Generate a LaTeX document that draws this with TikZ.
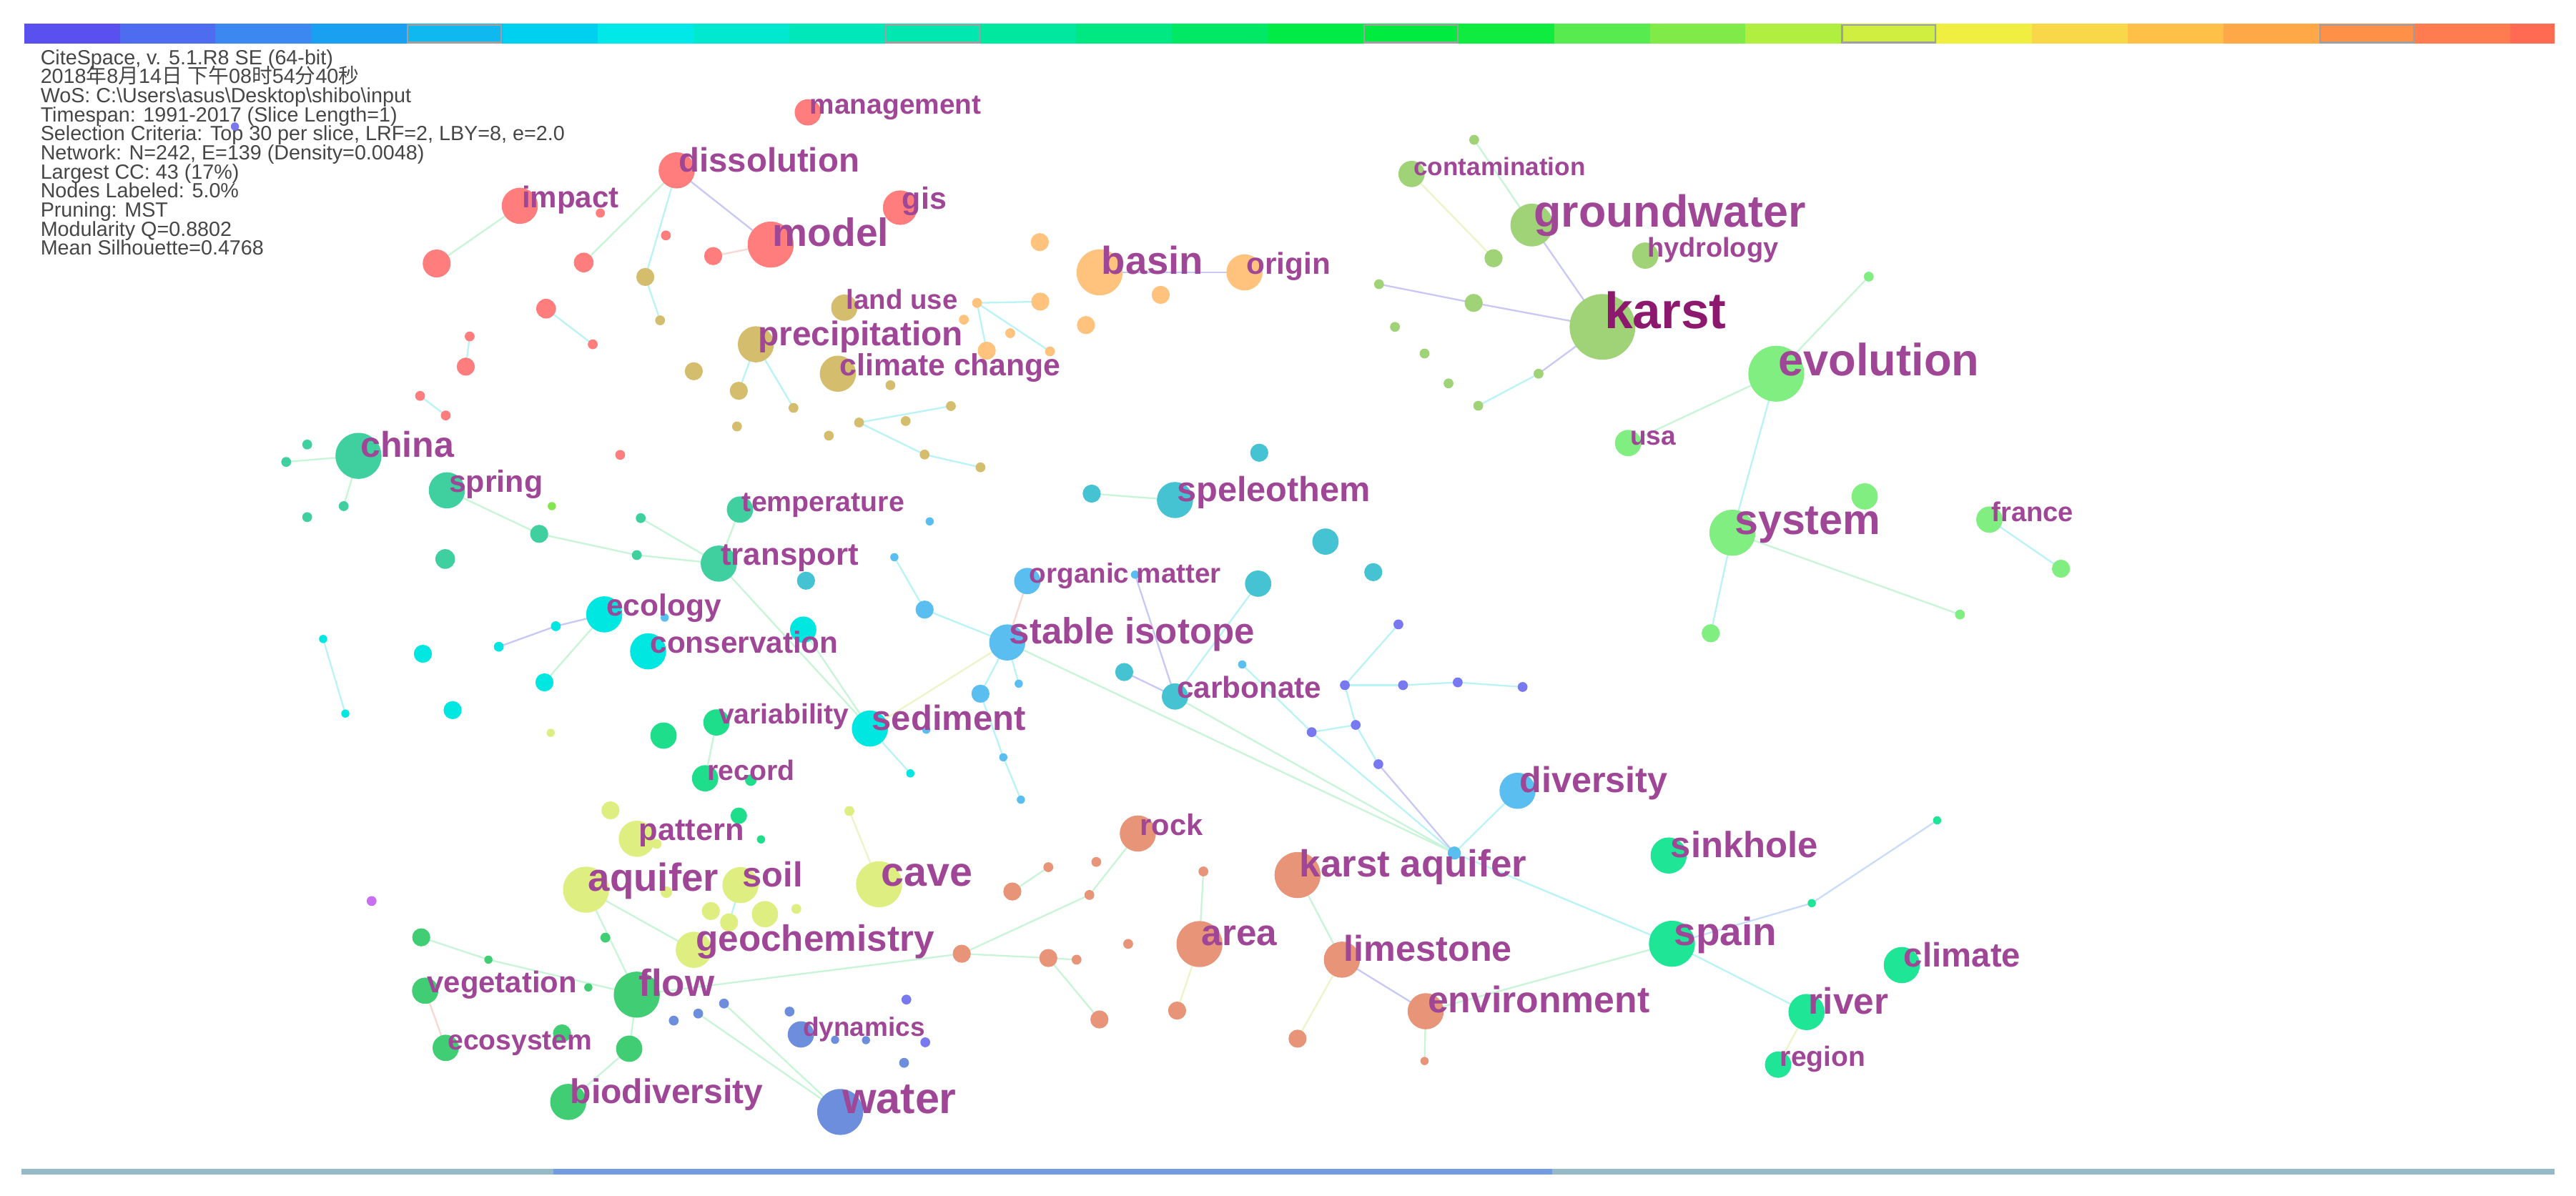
\documentclass[tikz,border=0pt]{standalone}
\usepackage{fontspec}
\setmainfont{Liberation Sans}
\newfontfamily\cjk{Noto Sans CJK SC}
\pgfdeclarelayer{bg}
\pgfdeclarelayer{paper}
\pgfsetlayers{paper,bg,main}
% cluster colours
\definecolor{cR}{RGB}{255,125,125}
\definecolor{cO}{RGB}{212,190,110}
\definecolor{cY}{RGB}{255,195,125}
\definecolor{cK}{RGB}{160,210,120}
\definecolor{cE}{RGB}{128,238,128}
\definecolor{cT}{RGB}{64,208,160}
\definecolor{cL}{RGB}{130,230,80}
\definecolor{cS}{RGB}{70,195,210}
\definecolor{cB}{RGB}{90,190,240}
\definecolor{cV}{RGB}{120,120,240}
\definecolor{cC}{RGB}{0,230,225}
\definecolor{cG}{RGB}{30,222,140}
\definecolor{cA}{RGB}{222,238,128}
\definecolor{cF}{RGB}{65,205,115}
\definecolor{cP}{RGB}{200,110,240}
\definecolor{cW}{RGB}{108,142,220}
\definecolor{cQ}{RGB}{232,148,120}
\definecolor{cN}{RGB}{30,230,150}
% edge colours
\definecolor{edG}{RGB}{200,245,215}
\definecolor{edC}{RGB}{185,243,245}
\definecolor{edV}{RGB}{200,200,246}
\definecolor{edY}{RGB}{235,245,200}
\definecolor{edR}{RGB}{250,215,210}
\definecolor{edB}{RGB}{200,220,250}
% text colours
\definecolor{lab}{RGB}{160,70,150}
\definecolor{labk}{RGB}{140,25,110}
\definecolor{hdr}{RGB}{70,70,70}
\definecolor{botA}{RGB}{150,185,200}
\definecolor{botB}{RGB}{115,155,225}
% colour bar
\definecolor{bar0}{RGB}{90,80,240}
\definecolor{bar1}{RGB}{78,108,240}
\definecolor{bar2}{RGB}{58,136,240}
\definecolor{bar3}{RGB}{26,160,240}
\definecolor{bar4}{RGB}{16,184,240}
\definecolor{bar5}{RGB}{0,208,240}
\definecolor{bar6}{RGB}{0,232,232}
\definecolor{bar7}{RGB}{0,232,208}
\definecolor{bar8}{RGB}{0,232,186}
\definecolor{bar9}{RGB}{0,232,176}
\definecolor{bar10}{RGB}{0,232,160}
\definecolor{bar11}{RGB}{0,232,130}
\definecolor{bar12}{RGB}{0,232,100}
\definecolor{bar13}{RGB}{0,235,70}
\definecolor{bar14}{RGB}{0,235,64}
\definecolor{bar15}{RGB}{16,235,64}
\definecolor{bar16}{RGB}{88,235,80}
\definecolor{bar17}{RGB}{128,235,72}
\definecolor{bar18}{RGB}{176,238,64}
\definecolor{bar19}{RGB}{208,238,64}
\definecolor{bar20}{RGB}{240,238,64}
\definecolor{bar21}{RGB}{248,216,72}
\definecolor{bar22}{RGB}{255,192,72}
\definecolor{bar23}{RGB}{255,168,72}
\definecolor{bar24}{RGB}{255,144,72}
\definecolor{bar25}{RGB}{255,124,80}
\definecolor{bar26}{RGB}{255,106,82}
\tikzset{
  dot/.style={circle, fill=#1, draw=none, inner sep=0pt, outer sep=0pt},
  lbl/.style={anchor=base west, inner sep=0pt, outer sep=0pt, text=lab, xshift=1.3pt, yshift=-1pt},
  hline/.style={anchor=base west, inner sep=0pt, text=hdr, font=\fontsize{12.5}{12.5}\selectfont},
  eG/.style={draw=edG, line width=1pt},
  eC/.style={draw=edC, line width=1pt},
  eV/.style={draw=edV, line width=1pt},
  eY/.style={draw=edY, line width=1pt},
  eR/.style={draw=edR, line width=1pt},
  eB/.style={draw=edB, line width=1pt},
}
\newcommand\kwnode[5]{\node[dot=#5, minimum size=2*#4pt] (#1) at (#2,#3) {};}
\newcommand\kwlabel[3]{\node[lbl, font=\bfseries\fontsize{#2}{#2}\selectfont] (#1-l) at (#1.center) {#3};}
\newcommand\kwedge[3]{\draw[#1] (#2.center) -- (#3.center);}
\begin{document}
\begin{tikzpicture}[x=1pt,y=-1pt]
\useasboundingbox (0,0) rectangle (1568,728);
\begin{pgfonlayer}{paper}
\fill[white] (0,0) rectangle (1568,728);
\end{pgfonlayer}
% ---------- colour bar ----------
\begin{scope}
\clip (0,0) rectangle (1555,40);
\foreach \i in {0,...,26}{
  \fill[bar\i] ({14.8+58.2*\i},14.5) rectangle ({14.8+58.2*(\i+1)},26.5);
}
\foreach \i in {4,9,14,19,24}{
  \draw[gray!75, line width=1pt] ({15.4+58.2*\i},15.1) rectangle ({14.2+58.2*(\i+1)},25.9);
}
\end{scope}
% ---------- bottom bar ----------
\fill[botA] (13,711.5) rectangle (1555,715);
\fill[botB] (337,711.5) rectangle (945,715);
% ---------- header ----------
\node[hline] (h1) at (24.5,39.3) {CiteSpace, v. 5.1.R8 SE (64-bit)};
\node[hline] (h2) at (24.5,50.9) {2018{\cjk 年}8{\cjk 月}14{\cjk 日} {\cjk 下午}08{\cjk 时}54{\cjk 分}40{\cjk 秒}};
\node[hline] (h3) at (24.5,62.5) {WoS: C:\textbackslash Users\textbackslash asus\textbackslash Desktop\textbackslash shibo\textbackslash input};
\node[hline] (h4) at (24.5,74.1) {Timespan: 1991-2017 (Slice Length=1)};
\node[hline] (h5) at (24.5,85.7) {Selection Criteria: Top 30 per slice, LRF=2, LBY=8, e=2.0};
\node[hline] (h6) at (24.5,97.3) {Network: N=242, E=139 (Density=0.0048)};
\node[hline] (h7) at (24.5,108.9) {Largest CC: 43 (17\%)};
\node[hline] (h8) at (24.5,120.5) {Nodes Labeled: 5.0\%};
\node[hline] (h9) at (24.5,132.1) {Pruning: MST};
\node[hline] (h10) at (24.5,143.7) {Modularity Q=0.8802};
\node[hline] (h11) at (24.5,155.3) {Mean Silhouette=0.4768};
% ---------- nodes ----------
% red
\kwnode{r1}{491.7}{68.4}{8}{cR}
\kwnode{r2}{411.9}{103.7}{11}{cR}
\kwnode{r3}{316.4}{125.3}{11}{cR}
\kwnode{r4}{547.9}{126.4}{10.5}{cR}
\kwnode{r5}{469.1}{148.9}{14}{cR}
\kwnode{r6}{365.4}{129.7}{2.8}{cR}
\kwnode{r7}{405.3}{143.3}{3}{cR}
\kwnode{r8}{434.1}{155.9}{5.5}{cR}
\kwnode{r9}{265.8}{160.4}{8.5}{cR}
\kwnode{r10}{355.3}{159.8}{6}{cR}
\kwnode{r11}{332.4}{187.9}{6}{cR}
\kwnode{r12}{360.8}{209.6}{3}{cR}
\kwnode{r13}{285.9}{204.8}{3}{cR}
\kwnode{r14}{283.5}{223.2}{5.5}{cR}
\kwnode{r15}{255.7}{241}{3}{cR}
\kwnode{r16}{271.3}{252.9}{3}{cR}
\kwnode{r17}{377.5}{276.9}{3}{cR}
% olive
\kwnode{o1}{392.8}{168.6}{5.5}{cO}
\kwnode{o2}{401.8}{195}{3}{cO}
\kwnode{o3}{513.9}{187.3}{8}{cO}
\kwnode{o4}{460.1}{209.6}{11}{cO}
\kwnode{o5}{510}{227.5}{11}{cO}
\kwnode{o6}{422.3}{226}{5.5}{cO}
\kwnode{o7}{449.7}{237.9}{5.5}{cO}
\kwnode{o8}{483}{248.3}{3}{cO}
\kwnode{o9}{542}{234.5}{3}{cO}
\kwnode{o10}{448.6}{259.6}{3}{cO}
\kwnode{o11}{504.5}{265.2}{3}{cO}
\kwnode{o12}{522.9}{257.2}{3}{cO}
\kwnode{o13}{551.3}{256.3}{3}{cO}
\kwnode{o14}{578.8}{247.2}{3}{cO}
\kwnode{o15}{562.8}{276.7}{3}{cO}
\kwnode{o16}{596.8}{284.5}{3}{cO}
% orange
\kwnode{y1}{632.9}{147.4}{5.5}{cY}
\kwnode{y2}{669.3}{165.8}{14}{cY}
\kwnode{y3}{633.2}{183.6}{5.5}{cY}
\kwnode{y4}{594.7}{184.4}{3}{cY}
\kwnode{y5}{661}{197.9}{5.5}{cY}
\kwnode{y6}{586.7}{194.6}{3}{cY}
\kwnode{y7}{614.9}{202.8}{3}{cY}
\kwnode{y8}{600.6}{213.5}{5.5}{cY}
\kwnode{y9}{639.1}{213.9}{3}{cY}
\kwnode{y10}{757.5}{165.8}{11}{cY}
\kwnode{y11}{706.5}{179.5}{5.5}{cY}
% karst green
\kwnode{k1}{859.2}{105.9}{8}{cK}
\kwnode{k2}{897.3}{85.1}{3}{cK}
\kwnode{k3}{932.4}{137}{13}{cK}
\kwnode{k4}{909.1}{157.2}{5.5}{cK}
\kwnode{k5}{1001.4}{155.6}{8}{cK}
\kwnode{k6}{839.4}{173}{3}{cK}
\kwnode{k7}{897}{184.4}{5.5}{cK}
\kwnode{k8}{975.4}{199}{20}{cK}
\kwnode{k9}{849.1}{199}{3}{cK}
\kwnode{k10}{867.1}{215.2}{3}{cK}
\kwnode{k11}{936.5}{227.5}{3}{cK}
\kwnode{k12}{881.7}{233.4}{3}{cK}
\kwnode{k13}{899.8}{247}{3}{cK}
% light green
\kwnode{e1}{1081.2}{227.5}{17}{cE}
\kwnode{e2}{1137.5}{168.4}{3}{cE}
\kwnode{e3}{991}{269.7}{8}{cE}
\kwnode{e4}{1054.5}{324.3}{14}{cE}
\kwnode{e5}{1135}{302.2}{8}{cE}
\kwnode{e6}{1193}{374.1}{3}{cE}
\kwnode{e7}{1210.9}{316.3}{8}{cE}
\kwnode{e8}{1254.5}{346.2}{5.5}{cE}
\kwnode{e9}{1041.3}{385.5}{5.5}{cE}
% teal
\kwnode{t1}{218.2}{277.5}{14}{cT}
\kwnode{t2}{187}{270.6}{3}{cT}
\kwnode{t3}{174.2}{281.2}{3}{cT}
\kwnode{t4}{209.2}{308.1}{3}{cT}
\kwnode{t5}{187}{314.8}{3}{cT}
\kwnode{t6}{272}{298.5}{11}{cT}
\kwnode{t7}{328.2}{325}{5.5}{cT}
\kwnode{t8}{271}{340.3}{6}{cT}
\kwnode{t9}{390}{315.4}{3}{cT}
\kwnode{t10}{387.6}{337.9}{3}{cT}
\kwnode{t11}{450.4}{310.2}{8}{cT}
\kwnode{t12}{437.5}{343.1}{11}{cT}
\kwnode{l1}{335.9}{308.1}{2.5}{cL}
% teal-blue
\kwnode{s1}{715.2}{304.4}{11}{cS}
\kwnode{s2}{664.5}{300.5}{5.5}{cS}
\kwnode{s3}{766.5}{275.6}{5.5}{cS}
\kwnode{s4}{806.8}{329.7}{8}{cS}
\kwnode{s5}{835.9}{348.3}{5.5}{cS}
\kwnode{s6}{765.8}{355.3}{8}{cS}
\kwnode{s7}{490.6}{353.5}{5.5}{cS}
\kwnode{s8}{715.2}{424}{8}{cS}
\kwnode{s9}{684.3}{409.1}{5.5}{cS}
% sky blue
\kwnode{b1}{625.3}{353.7}{8}{cB}
\kwnode{b2}{565.9}{317.4}{2.5}{cB}
\kwnode{b3}{544.4}{339.2}{2.5}{cB}
\kwnode{b4}{562.8}{371.1}{5.5}{cB}
\kwnode{b5}{613.1}{391.1}{11}{cB}
\kwnode{b6}{690.9}{349.8}{2.5}{cB}
\kwnode{b7}{596.8}{422.3}{5.5}{cB}
\kwnode{b8}{620.1}{416.2}{2.5}{cB}
\kwnode{b9}{610.7}{461}{2.5}{cB}
\kwnode{b10}{621.4}{486.8}{2.5}{cB}
\kwnode{b11}{563.8}{444.2}{2.5}{cB}
\kwnode{b12}{756.1}{404.5}{2.5}{cB}
\kwnode{b13}{923.7}{481.4}{11}{cB}
\kwnode{b14}{885.2}{519.3}{4}{cB}
\kwnode{b15}{404.6}{376}{2.5}{cB}
% violet
\kwnode{v1}{851.2}{380.1}{3}{cV}
\kwnode{v2}{818.6}{417.1}{3}{cV}
\kwnode{v3}{854}{417.1}{3}{cV}
\kwnode{v4}{887.3}{415.4}{3}{cV}
\kwnode{v5}{926.8}{418.2}{3}{cV}
\kwnode{v6}{798.4}{445.7}{3}{cV}
\kwnode{v7}{825.2}{441.3}{3}{cV}
\kwnode{v8}{839}{465.2}{3}{cV}
\kwnode{v9}{143}{77}{2.5}{cV}
% cyan
\kwnode{c1}{367.8}{374}{11}{cC}
\kwnode{c2}{394.5}{396.5}{11}{cC}
\kwnode{c3}{488.9}{383.3}{8}{cC}
\kwnode{c4}{338.3}{381.2}{3}{cC}
\kwnode{c5}{257.4}{398}{5.5}{cC}
\kwnode{c6}{303.6}{393.7}{3}{cC}
\kwnode{c7}{196.7}{389}{2.5}{cC}
\kwnode{c8}{210.2}{434.4}{2.5}{cC}
\kwnode{c9}{331.4}{415.4}{5.5}{cC}
\kwnode{c10}{275.5}{432.3}{5.5}{cC}
\kwnode{c11}{529.5}{443.5}{11}{cC}
\kwnode{c12}{554.1}{470.8}{2.5}{cC}
% green (variability)
\kwnode{g1}{403.9}{447.8}{8}{cG}
\kwnode{g2}{436.1}{439.8}{8}{cG}
\kwnode{g3}{429.2}{473.8}{8}{cG}
\kwnode{g4}{457}{474.9}{3.5}{cG}
\kwnode{g5}{449.7}{496.6}{5}{cG}
\kwnode{g6}{463.2}{511}{2.5}{cG}
% yellow-green
\kwnode{a1}{335.2}{446.1}{2.5}{cA}
\kwnode{a2}{371.6}{493.3}{5.5}{cA}
\kwnode{a3}{387.6}{510.6}{11}{cA}
\kwnode{a4}{399.7}{513.7}{3}{cA}
\kwnode{a5}{517}{493.7}{3}{cA}
\kwnode{a6}{356.7}{541.6}{14}{cA}
\kwnode{a7}{405.6}{543.1}{3.5}{cA}
\kwnode{a8}{450.7}{538.8}{11}{cA}
\kwnode{a9}{535.1}{538.3}{14}{cA}
\kwnode{a10}{432.7}{554.6}{5.5}{cA}
\kwnode{a11}{443.8}{561.5}{5.5}{cA}
\kwnode{a12}{465.6}{556.5}{8}{cA}
\kwnode{a13}{484.7}{553.3}{3}{cA}
\kwnode{a14}{422.3}{578.2}{11}{cA}
% dark green
\kwnode{f1}{256.4}{570.6}{5.5}{cF}
\kwnode{f2}{297.3}{584.2}{2.5}{cF}
\kwnode{f3}{368.5}{570.8}{3}{cF}
\kwnode{f4}{258.8}{603.1}{8}{cF}
\kwnode{f5}{358.1}{601.1}{2.5}{cF}
\kwnode{f6}{387.6}{605.5}{14}{cF}
\kwnode{f7}{271.3}{637.9}{8}{cF}
\kwnode{f8}{342.1}{629.1}{5.5}{cF}
\kwnode{f9}{383}{638.4}{8}{cF}
\kwnode{f10}{345.9}{670.8}{11}{cF}
\kwnode{p1}{226.2}{548.5}{3}{cP}
% blue
\kwnode{w1}{440.7}{610.9}{3}{cW}
\kwnode{w2}{425}{617}{3}{cW}
\kwnode{w3}{410.1}{621.3}{3}{cW}
\kwnode{w4}{480.6}{615.8}{3}{cW}
\kwnode{w5}{487.5}{629.7}{8}{cW}
\kwnode{w6}{508.3}{633}{2.5}{cW}
\kwnode{w7}{527.1}{633.2}{2.5}{cW}
\kwnode{w8}{550.3}{647}{3}{cW}
\kwnode{w9}{511.4}{676.9}{14}{cW}
\kwnode{w10}{551.7}{608.5}{3}{cV}
\kwnode{w11}{563.2}{634.5}{3}{cV}
% orange-brown
\kwnode{q1}{692.6}{507.4}{11}{cQ}
\kwnode{q2}{616.2}{542.7}{5.5}{cQ}
\kwnode{q3}{638.1}{527.9}{3}{cQ}
\kwnode{q4}{667.3}{524.7}{3}{cQ}
\kwnode{q5}{663.1}{544.8}{3}{cQ}
\kwnode{q6}{585.4}{580.6}{5.5}{cQ}
\kwnode{q7}{638.1}{583.2}{5.5}{cQ}
\kwnode{q8}{655.3}{584.2}{3}{cQ}
\kwnode{q9}{686.7}{574.6}{3}{cQ}
\kwnode{q10}{669.2}{620.6}{5.5}{cQ}
\kwnode{q11}{789.8}{532.7}{14}{cQ}
\kwnode{q12}{732.5}{530.5}{3}{cQ}
\kwnode{q13}{730.1}{574.7}{14}{cQ}
\kwnode{q14}{816.8}{584.2}{11}{cQ}
\kwnode{q15}{867.8}{615.6}{11}{cQ}
\kwnode{q16}{716.5}{615.2}{5.5}{cQ}
\kwnode{q17}{789.8}{632.3}{5.5}{cQ}
\kwnode{q18}{867.1}{645.9}{2.5}{cQ}
% spring green
\kwnode{n1}{1015.7}{520.8}{11}{cN}
\kwnode{n2}{1179.1}{499.4}{2.5}{cN}
\kwnode{n3}{1102.8}{549.8}{2.5}{cN}
\kwnode{n4}{1017.7}{574.5}{14}{cN}
\kwnode{n5}{1157.6}{587.5}{11}{cN}
\kwnode{n6}{1099.6}{616.1}{11}{cN}
\kwnode{n7}{1082.3}{648.1}{8}{cN}
% ---------- edges ----------
\begin{pgfonlayer}{bg}
\kwedge{eG}{r3}{r9}
\kwedge{eG}{r2}{r10}
\kwedge{eC}{r2}{o1}
\kwedge{eC}{o1}{o2}
\kwedge{eV}{r2}{r5}
\kwedge{eR}{r8}{r5}
\kwedge{eC}{r11}{r12}
\kwedge{eC}{r13}{r14}
\kwedge{eC}{r15}{r16}
\kwedge{eC}{y4}{y3}
\kwedge{eC}{y4}{y8}
\kwedge{eC}{y4}{y9}
\kwedge{eC}{o4}{o7}
\kwedge{eC}{o4}{o8}
\kwedge{eC}{o12}{o14}
\kwedge{eC}{o12}{o15}
\kwedge{eC}{o15}{o16}
\kwedge{eV}{y2}{y10}
\kwedge{eG}{t1}{t3}
\kwedge{eG}{t1}{t4}
\kwedge{eG}{t6}{t7}
\kwedge{eG}{t7}{t10}
\kwedge{eG}{t10}{t12}
\kwedge{eG}{t12}{t11}
\kwedge{eG}{t12}{t9}
\kwedge{eG}{t12}{c11}
\kwedge{eG}{c3}{c11}
\kwedge{eC}{b3}{b4}
\kwedge{eC}{b4}{b5}
\kwedge{eR}{b1}{b5}
\kwedge{eG}{s1}{s2}
\kwedge{eV}{b6}{s8}
\kwedge{eC}{s6}{s8}
\kwedge{eV}{s9}{s8}
\kwedge{eG}{b5}{b14}
\kwedge{eG}{s8}{b14}
\kwedge{eC}{b12}{v6}
\kwedge{eC}{v6}{b14}
\kwedge{eC}{v1}{v2}
\kwedge{eC}{v2}{v3}
\kwedge{eC}{v3}{v4}
\kwedge{eC}{v4}{v5}
\kwedge{eC}{v2}{v7}
\kwedge{eC}{v6}{v7}
\kwedge{eC}{v7}{v8}
\kwedge{eV}{v8}{b14}
\kwedge{eC}{b13}{b14}
\kwedge{eC}{b14}{n4}
\kwedge{eV}{c1}{c4}
\kwedge{eV}{c4}{c6}
\kwedge{eG}{c1}{c9}
\kwedge{eC}{c7}{c8}
\kwedge{eY}{c11}{b5}
\kwedge{eC}{b5}{b7}
\kwedge{eC}{b5}{b8}
\kwedge{eC}{b7}{b9}
\kwedge{eC}{b9}{b10}
\kwedge{eC}{c11}{c12}
\kwedge{eG}{g2}{g3}
\kwedge{eY}{a5}{a9}
\kwedge{eG}{a6}{a14}
\kwedge{eG}{a6}{f6}
\kwedge{eC}{a8}{a11}
\kwedge{eG}{f1}{f2}
\kwedge{eG}{f2}{f6}
\kwedge{eG}{f6}{q6}
\kwedge{eG}{q6}{q7}
\kwedge{eG}{q7}{q8}
\kwedge{eG}{q6}{q5}
\kwedge{eG}{q5}{q1}
\kwedge{eG}{q2}{q3}
\kwedge{eG}{q7}{q10}
\kwedge{eG}{f6}{f9}
\kwedge{eG}{f9}{f10}
\kwedge{eR}{f4}{f7}
\kwedge{eG}{w2}{w9}
\kwedge{eG}{w1}{w9}
\kwedge{eG}{q11}{q14}
\kwedge{eV}{q14}{q15}
\kwedge{eY}{q14}{q17}
\kwedge{eG}{q15}{q18}
\kwedge{eG}{q15}{n4}
\kwedge{eG}{q13}{q12}
\kwedge{eY}{q13}{q16}
\kwedge{eB}{n4}{n3}
\kwedge{eB}{n3}{n2}
\kwedge{eC}{n4}{n6}
\kwedge{eY}{n6}{n7}
\kwedge{eV}{k8}{k3}
\kwedge{eV}{k8}{k7}
\kwedge{eV}{k7}{k6}
\kwedge{eV}{k8}{k11}
\kwedge{eC}{k11}{k13}
\kwedge{eY}{k1}{k4}
\kwedge{eG}{k2}{k3}
\kwedge{eG}{e1}{e2}
\kwedge{eG}{e1}{e3}
\kwedge{eC}{e1}{e4}
\kwedge{eG}{e4}{e6}
\kwedge{eC}{e4}{e9}
\kwedge{eC}{e7}{e8}
\end{pgfonlayer}
% ---------- labels ----------
\kwlabel{r1}{16.9}{management}
\kwlabel{r2}{20.6}{dissolution}
\kwlabel{r3}{18.3}{impact}
\kwlabel{r4}{18.7}{gis}
\kwlabel{r5}{24}{model}
\kwlabel{o3}{16.7}{land use}
\kwlabel{o4}{20.8}{precipitation}
\kwlabel{o5}{18.6}{climate change}
\kwlabel{y2}{23.7}{basin}
\kwlabel{y10}{18.4}{origin}
\kwlabel{k1}{15.3}{contamination}
\kwlabel{k3}{27.3}{groundwater}
\kwlabel{k5}{16.5}{hydrology}
\node[lbl, text=labk, font=\bfseries\fontsize{31}{31}\selectfont] (k8-l) at (k8.center) {karst};
\kwlabel{e1}{27.5}{evolution}
\kwlabel{e3}{16.1}{usa}
\kwlabel{e4}{25.8}{system}
\kwlabel{e7}{16.6}{france}
\kwlabel{t1}{21.8}{china}
\kwlabel{t6}{18.7}{spring}
\kwlabel{t11}{17.1}{temperature}
\kwlabel{t12}{19.1}{transport}
\kwlabel{s1}{21.2}{speleothem}
\kwlabel{b1}{16.8}{organic matter}
\kwlabel{c1}{18.5}{ecology}
\kwlabel{c2}{18.4}{conservation}
\kwlabel{b5}{22.2}{stable isotope}
\kwlabel{g2}{17}{variability}
\kwlabel{c11}{21.3}{sediment}
\kwlabel{s8}{18.4}{carbonate}
\kwlabel{g3}{17.1}{record}
\kwlabel{a3}{18.9}{pattern}
\kwlabel{a6}{23.8}{aquifer}
\kwlabel{a8}{21.2}{soil}
\kwlabel{a9}{25}{cave}
\kwlabel{a14}{22.3}{geochemistry}
\kwlabel{f4}{18.2}{vegetation}
\kwlabel{f6}{23}{flow}
\kwlabel{w5}{16.1}{dynamics}
\kwlabel{f7}{17}{ecosystem}
\kwlabel{f10}{20.9}{biodiversity}
\kwlabel{w9}{26.6}{water}
\kwlabel{q1}{18.1}{rock}
\kwlabel{q11}{23}{karst aquifer}
\kwlabel{q13}{22.3}{area}
\kwlabel{q14}{21.9}{limestone}
\kwlabel{q15}{22.5}{environment}
\kwlabel{b13}{21.9}{diversity}
\kwlabel{n1}{22.1}{sinkhole}
\kwlabel{n4}{23.9}{spain}
\kwlabel{n5}{20.6}{climate}
\kwlabel{n6}{22.4}{river}
\kwlabel{n7}{17}{region}
\end{tikzpicture}
\end{document}
